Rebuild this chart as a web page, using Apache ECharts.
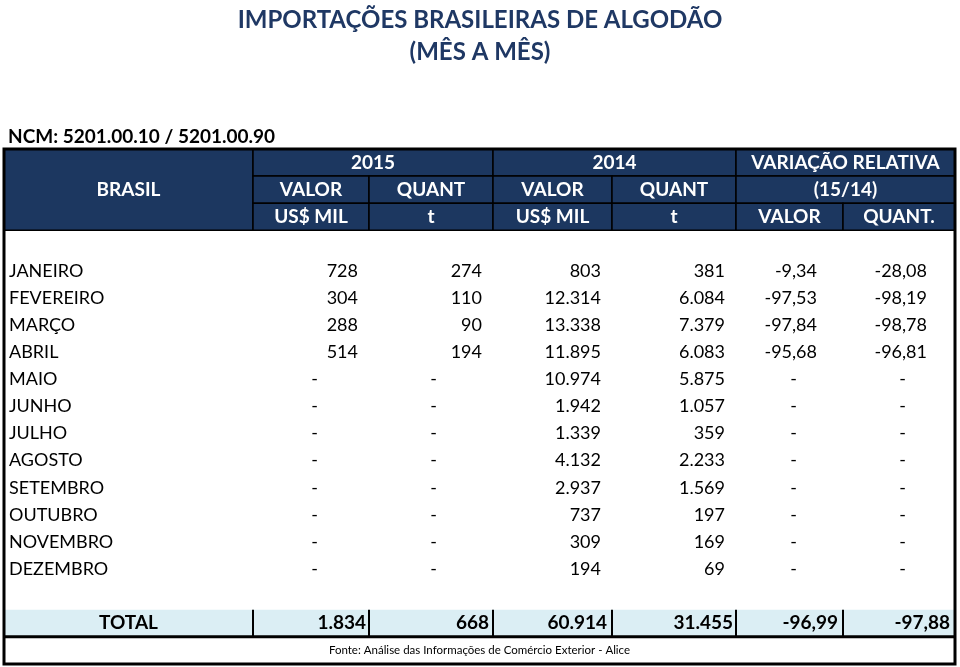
<!DOCTYPE html>
<html>
<head>
<meta charset="utf-8">
<script src="https://cdn.jsdelivr.net/npm/echarts@6/dist/echarts.min.js"></script>
<style>
  html, body { margin: 0; padding: 0; background: #fff; }
  #main { width: 960px; height: 667px; }
</style>
</head>
<body>
<div id="main"></div>
<script>
// table values, read from the sheet
const months = ['JANEIRO', 'FEVEREIRO', 'MARÇO', 'ABRIL', 'MAIO', 'JUNHO', 'JULHO',
  'AGOSTO', 'SETEMBRO', 'OUTUBRO', 'NOVEMBRO', 'DEZEMBRO'];
const valor2015 = [728, 304, 288, 514, null, null, null, null, null, null, null, null];
const quant2015 = [274, 110, 90, 194, null, null, null, null, null, null, null, null];
const valor2014 = [803, 12314, 13338, 11895, 10974, 1942, 1339, 4132, 2937, 737, 309, 194];
const quant2014 = [381, 6084, 7379, 6083, 5875, 1057, 359, 2233, 1569, 197, 169, 69];
const varValor = [-9.34, -97.53, -97.84, -95.68, null, null, null, null, null, null, null, null];
const varQuant = [-28.08, -98.19, -98.78, -96.81, null, null, null, null, null, null, null, null];
const totals = [1834, 668, 60914, 31455, -96.99, -97.88];

const headRow1 = ['2015', '2014', 'VARIAÇÃO RELATIVA'];
const headRow2 = ['VALOR', 'QUANT', 'VALOR', 'QUANT', '(15/14)'];
const headRow3 = ['US$ MIL', 't', 'US$ MIL', 't', 'VALOR', 'QUANT.'];
const source = 'Fonte: Análise das Informações de Comércio Exterior - Alice';

// layout of the sheet (column edges on the x axis, one unit per row on the y axis)
const colEdges = [4, 253, 369, 493, 612, 736, 843, 955];
const numPad = [11, 11, 11, 11, 26, 28];
const dashPad = [51, 56, 50, 50, 46, 49];
const totPad = [3, 4, 5, 3, 5, 5];
const NAVY = '#1c3760';
const FONT = 'Lato, "Open Sans", sans-serif';

function fmtInt(n) {
  return String(n).replace(/\B(?=(\d{3})+(?!\d))/g, '.');
}
function fmtPct(n) {
  return n.toFixed(2).replace('.', ',');
}

const cells = [];
function cell(c0, c1, r0, r1, text, kind, col) {
  cells.push({ c0: c0, c1: c1, r0: r0, r1: r1, text: text, kind: kind, col: col });
}

// light blue band of the total row, then the header
cell(0, 7, 17, 18, '', 'band');
cell(0, 1, 0, 3, 'BRASIL', 'head');
headRow1.forEach((t, i) => cell(1 + i * 2, 3 + i * 2, 0, 1, t, 'head'));
headRow2.forEach((t, i) => cell(1 + i, i < 4 ? 2 + i : 7, 1, 2, t, 'head'));
headRow3.forEach((t, i) => cell(1 + i, 2 + i, 2, 3, t, 'head'));

const series = [valor2015, quant2015, valor2014, quant2014, varValor, varQuant];
months.forEach((m, i) => {
  cell(0, 1, 4 + i, 5 + i, m, 'label');
  series.forEach((arr, k) => {
    const v = arr[i];
    let txt = '-';
    if (v !== null) txt = k < 4 ? fmtInt(v) : fmtPct(v);
    cell(k + 1, k + 2, 4 + i, 5 + i, txt, v === null ? 'dash' : 'num', k);
  });
});

cell(0, 1, 17, 18, 'TOTAL', 'totlabel');
totals.forEach((v, k) => cell(k + 1, k + 2, 17, 18, k < 4 ? fmtInt(v) : fmtPct(v), 'totnum', k));
cell(0, 7, 18, 19, source, 'footer');
cell(0, 7, 0, 19, '', 'frame');

function renderItem(params, api) {
  const c = cells[params.dataIndex];
  const p0 = api.coord([api.value(0), api.value(2)]);
  const p1 = api.coord([api.value(1), api.value(3)]);
  const x = p0[0], y = p0[1], w = p1[0] - p0[0], h = p1[1] - p0[1];
  const cy = y + h / 2;
  const kids = [];
  const txt = (tx, align, size, weight, fill) => ({
    type: 'text',
    style: {
      text: c.text, x: tx, y: cy, align: align, verticalAlign: 'middle',
      fontSize: size, fontWeight: weight, fontFamily: FONT, fill: fill
    }
  });
  if (c.kind === 'band') {
    kids.push({ type: 'rect', shape: { x: x, y: y, width: w, height: h }, style: { fill: '#dbeef4' } });
    kids.push({ type: 'line', shape: { x1: x, y1: y + h, x2: x + w, y2: y + h }, style: { stroke: '#000', lineWidth: 3 } });
  } else if (c.kind === 'head') {
    kids.push({ type: 'rect', shape: { x: x, y: y, width: w, height: h }, style: { fill: NAVY, stroke: '#000', lineWidth: 1.5 } });
    kids.push(txt(x + w / 2, 'center', 19, 'bold', '#fff'));
  } else if (c.kind === 'label') {
    kids.push(txt(x + 5, 'left', 18, 'normal', '#000'));
  } else if (c.kind === 'num') {
    kids.push(txt(x + w - numPad[c.col], 'right', 18, 'normal', '#000'));
  } else if (c.kind === 'dash') {
    kids.push(txt(x + w - dashPad[c.col], 'right', 18, 'normal', '#000'));
  } else if (c.kind === 'totlabel') {
    kids.push(txt(x + w / 2, 'center', 19, 'bold', '#000'));
  } else if (c.kind === 'totnum') {
    kids.push({ type: 'line', shape: { x1: x, y1: y, x2: x, y2: y + h }, style: { stroke: '#000', lineWidth: 2 } });
    kids.push(txt(x + w - totPad[c.col], 'right', 19, 'bold', '#000'));
  } else if (c.kind === 'footer') {
    kids.push(txt(x + w / 2, 'center', 11.5, 'normal', '#000'));
  } else if (c.kind === 'frame') {
    kids.push({ type: 'rect', shape: { x: x, y: y, width: w, height: h }, style: { fill: 'none', stroke: '#000', lineWidth: 3 } });
  }
  return { type: 'group', children: kids };
}

var chartDom = document.getElementById('main');
var myChart = echarts.init(chartDom);
var option;

option = {
  animation: false,
  backgroundColor: '#fff',
  title: [
    {
      text: 'IMPORTAÇÕES BRASILEIRAS DE ALGODÃO',
      left: 'center',
      top: 0,
      textStyle: { fontFamily: FONT, fontSize: 24, fontWeight: 'bold', color: '#1f3864', lineHeight: 30 }
    },
    {
      text: '(MÊS A MÊS)',
      left: 'center',
      top: 32,
      textStyle: { fontFamily: FONT, fontSize: 24, fontWeight: 'bold', color: '#1f3864', lineHeight: 30 }
    },
    {
      text: 'NCM: 5201.00.10 / 5201.00.90',
      left: 3,
      top: 122,
      textStyle: { fontFamily: FONT, fontSize: 19, fontWeight: 'bold', color: '#000', lineHeight: 20 }
    }
  ],
  grid: { left: 0, right: 0, top: 149, height: 27.1 * 19 },
  xAxis: { type: 'value', min: 0, max: 960, show: false },
  yAxis: { type: 'value', min: 0, max: 19, inverse: true, show: false },
  series: [
    {
      type: 'custom',
      renderItem: renderItem,
      clip: false,
      silent: true,
      data: cells.map(c => [colEdges[c.c0], colEdges[c.c1], c.r0, c.r1])
    }
  ]
};

option && myChart.setOption(option);
</script>
</body>
</html>
